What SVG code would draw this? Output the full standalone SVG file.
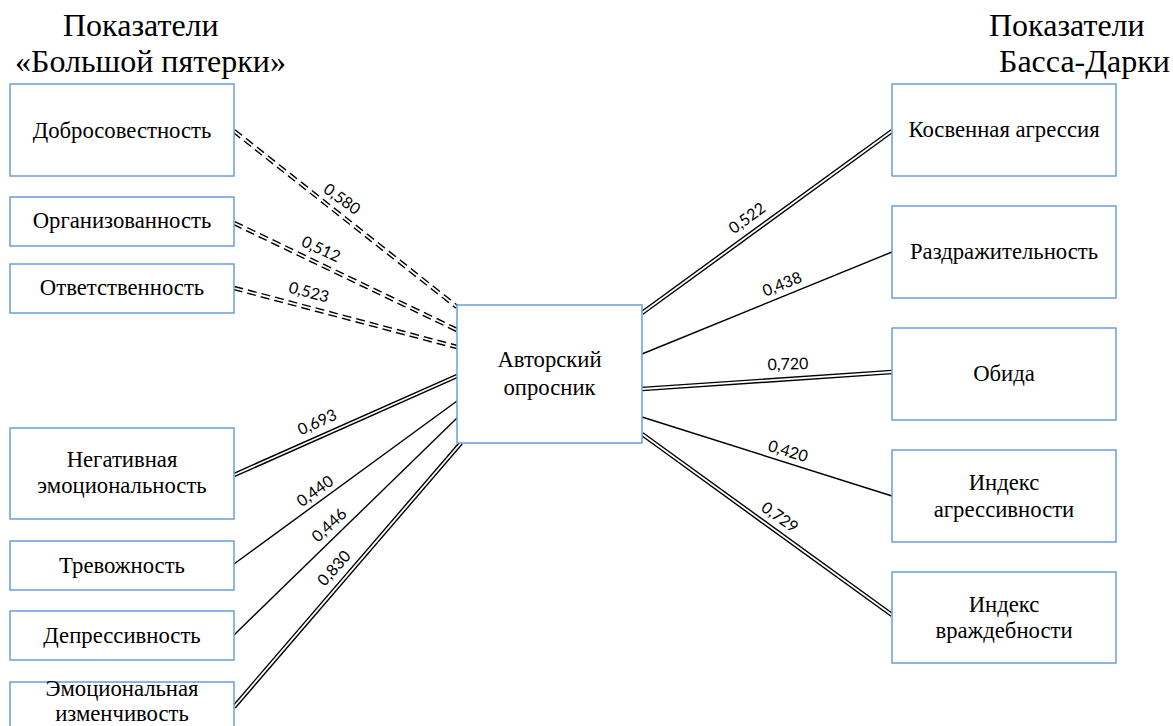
<svg xmlns="http://www.w3.org/2000/svg" width="1173" height="726" viewBox="0 0 1173 726">
<style>
.box{fill:#fff;stroke:#6A9FDB;stroke-width:1.5}
.t{font-family:"Liberation Serif","Times New Roman",serif;font-size:22.7px;fill:#000;text-anchor:middle}
.title{font-family:"Liberation Serif","Times New Roman",serif;font-size:32px;fill:#000}
.lbl{font-family:Lato,"Noto Sans",sans-serif;font-size:16px;fill:#000;text-anchor:middle}
.single{stroke:#000;stroke-width:1.4;fill:none}
.dblo{stroke:#000;stroke-width:4.6;fill:none}
.dbli{stroke:#fff;stroke-width:1.8;fill:none}
.dash{stroke-dasharray:9 5}
</style>
<rect width="1173" height="726" fill="#fff"/>
<g id="titles">
<text class="title" x="63" y="36">Показатели</text>
<text class="title" x="15" y="72">«Большой пятерки»</text>
<text class="title" x="989" y="36">Показатели</text>
<text class="title" x="999" y="72">Басса-Дарки</text>
</g>
<g id="connectors">
<path class="dblo dash" d="M234,131 L457,307"/><path class="dbli" d="M234,131 L457,307"/>
<path class="dblo dash" d="M234,223 L457,330"/><path class="dbli" d="M234,223 L457,330"/>
<path class="dblo dash" d="M234,288 L457,347"/><path class="dbli" d="M234,288 L457,347"/>
<path class="dblo" d="M234,475 L457,376"/><path class="dbli" d="M234,475 L457,376"/>
<path class="single" d="M234,564 L457,401"/>
<path class="single" d="M234,635 L457,418"/>
<path class="dblo" d="M234,707 L461,443"/><path class="dbli" d="M234,707 L461,443"/>
<path class="dblo" d="M642,313 L892,131"/><path class="dbli" d="M642,313 L892,131"/>
<path class="single" d="M642,354 L892,252"/>
<path class="dblo" d="M642,389 L892,372"/><path class="dbli" d="M642,389 L892,372"/>
<path class="single" d="M642,417 L892,496"/>
<path class="dblo" d="M642,434 L892,615"/><path class="dbli" d="M642,434 L892,615"/>
</g>
<g id="labels">
<text class="lbl" transform="translate(342,199) rotate(36)" dy="0.35em">0,580</text>
<text class="lbl" transform="translate(321,249) rotate(25)" dy="0.35em">0,512</text>
<text class="lbl" transform="translate(309,292) rotate(15)" dy="0.35em">0,523</text>
<text class="lbl" transform="translate(317,422) rotate(-24)" dy="0.35em">0,693</text>
<text class="lbl" transform="translate(315,491) rotate(-36)" dy="0.35em">0,440</text>
<text class="lbl" transform="translate(329,525) rotate(-43)" dy="0.35em">0,446</text>
<text class="lbl" transform="translate(334,568) rotate(-48)" dy="0.35em">0,830</text>
<text class="lbl" transform="translate(747,218) rotate(-36)" dy="0.35em">0,522</text>
<text class="lbl" transform="translate(782,284) rotate(-22)" dy="0.35em">0,438</text>
<text class="lbl" transform="translate(788,364) rotate(-2)" dy="0.35em">0,720</text>
<text class="lbl" transform="translate(788,451) rotate(17)" dy="0.35em">0,420</text>
<text class="lbl" transform="translate(780,517) rotate(35)" dy="0.35em">0,729</text>
</g>
<g id="center"><rect class="box" x="457" y="305" width="185" height="138"/>
<text class="t" x="549.5" y="367">Авторский</text><text class="t" x="549.5" y="395">опросник</text></g>
<g id="n-dobr"><rect class="box" x="10" y="84" width="224" height="92"/><text class="t" x="122" y="138">Добросовестность</text></g>
<g id="n-org"><rect class="box" x="10" y="197" width="224" height="49"/><text class="t" x="122" y="228">Организованность</text></g>
<g id="n-otv"><rect class="box" x="10" y="264" width="224" height="49"/><text class="t" x="122" y="295">Ответственность</text></g>
<g id="n-neg"><rect class="box" x="10" y="428" width="224" height="91"/><text class="t" x="122" y="467">Негативная</text><text class="t" x="122" y="493">эмоциональность</text></g>
<g id="n-trev"><rect class="box" x="10" y="541" width="224" height="49"/><text class="t" x="122" y="573">Тревожность</text></g>
<g id="n-depr"><rect class="box" x="10" y="611" width="224" height="49"/><text class="t" x="122" y="643">Депрессивность</text></g>
<g id="n-emo"><rect class="box" x="10" y="682" width="224" height="70"/><text class="t" x="122" y="696">Эмоциональная</text><text class="t" x="122" y="721">изменчивость</text></g>
<g id="n-kosv"><rect class="box" x="892" y="84" width="224" height="92"/><text class="t" x="1004" y="137">Косвенная агрессия</text></g>
<g id="n-razd"><rect class="box" x="892" y="206" width="224" height="92"/><text class="t" x="1004" y="259">Раздражительность</text></g>
<g id="n-obida"><rect class="box" x="892" y="328" width="224" height="92"/><text class="t" x="1004" y="381">Обида</text></g>
<g id="n-agr"><rect class="box" x="892" y="450" width="224" height="92"/><text class="t" x="1004" y="490">Индекс</text><text class="t" x="1004" y="517">агрессивности</text></g>
<g id="n-vrazh"><rect class="box" x="892" y="572" width="224" height="91"/><text class="t" x="1004" y="612">Индекс</text><text class="t" x="1004" y="638">враждебности</text></g>
</svg>
